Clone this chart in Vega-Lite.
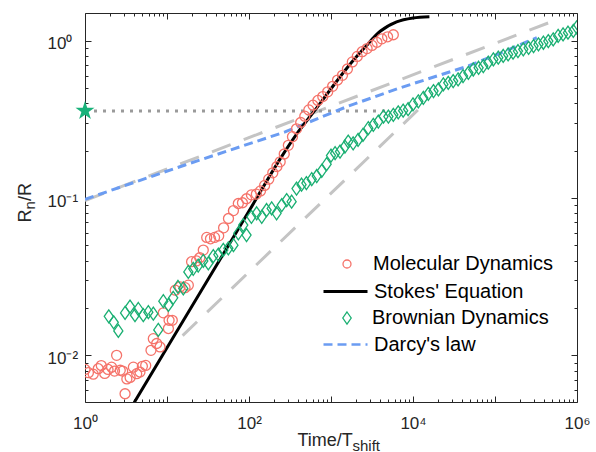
{
  "$schema": "https://vega.github.io/schema/vega-lite/v6.json",
  "width": 492,
  "height": 389,
  "autosize": {"type": "none"},
  "padding": {"left": 85, "top": 13, "right": 19, "bottom": 50},
  "background": "white",
  "datasets": {
    "guideA": [{"t": 1, "r": 0.0964}, {"t": 631000, "r": 1.39}],
    "guideB": [{"t": 15.5, "r": 0.01334}, {"t": 12882, "r": 0.3846}],
    "dotted": [{"t": 1, "r": 0.358}, {"t": 4800, "r": 0.358}],
    "star": [{"t": 1, "r": 0.358}],
    "darcy": [{"t": 1, "r": 0.0982}, {"t": 16.6, "r": 0.1622}, {"t": 275, "r": 0.263}, {"t": 1549, "r": 0.3802}, {"t": 6918, "r": 0.5012}, {"t": 44668, "r": 0.6839}, {"t": 114815, "r": 0.8318}, {"t": 323594, "r": 1.0447}],
    "stokes": [{"t": 3.98, "r": 0.00501}, {"t": 10, "r": 0.01117}, {"t": 31.6, "r": 0.0303}, {"t": 100, "r": 0.0826}, {"t": 251, "r": 0.184}, {"t": 398, "r": 0.263}, {"t": 631, "r": 0.359}, {"t": 1000, "r": 0.495}, {"t": 1585, "r": 0.676}, {"t": 2512, "r": 0.891}, {"t": 3981, "r": 1.148}, {"t": 6310, "r": 1.318}, {"t": 10000, "r": 1.396}, {"t": 15849, "r": 1.422}],
    "md": [{"t": 1.0, "r": 0.00813}, {"t": 1.1, "r": 0.00776}, {"t": 1.26, "r": 0.00759}, {"t": 1.45, "r": 0.00822}, {"t": 1.58, "r": 0.00861}, {"t": 1.74, "r": 0.00767}, {"t": 1.91, "r": 0.00813}, {"t": 2.11, "r": 0.00841}, {"t": 2.29, "r": 0.00794}, {"t": 2.43, "r": 0.01}, {"t": 2.69, "r": 0.00804}, {"t": 2.88, "r": 0.00794}, {"t": 3.08, "r": 0.0057}, {"t": 3.24, "r": 0.00708}, {"t": 3.55, "r": 0.00724}, {"t": 3.89, "r": 0.00841}, {"t": 4.27, "r": 0.00764}, {"t": 4.68, "r": 0.00783}, {"t": 5.01, "r": 0.00851}, {"t": 5.5, "r": 0.00863}, {"t": 6.38, "r": 0.01076}, {"t": 6.81, "r": 0.01276}, {"t": 7.48, "r": 0.01189}, {"t": 8.22, "r": 0.0113}, {"t": 9.02, "r": 0.01862}, {"t": 10.4, "r": 0.0148}, {"t": 10.6, "r": 0.0167}, {"t": 11.6, "r": 0.0167}, {"t": 12.6, "r": 0.02594}, {"t": 14.4, "r": 0.02723}, {"t": 16.6, "r": 0.02692}, {"t": 18.2, "r": 0.02793}, {"t": 19.95, "r": 0.03936}, {"t": 22.9, "r": 0.0398}, {"t": 25.1, "r": 0.0417}, {"t": 27.7, "r": 0.04667}, {"t": 30.5, "r": 0.0562}, {"t": 33.9, "r": 0.055}, {"t": 38.0, "r": 0.0562}, {"t": 42.7, "r": 0.0575}, {"t": 49.0, "r": 0.0646}, {"t": 56.2, "r": 0.0741}, {"t": 64.6, "r": 0.0832}, {"t": 74.1, "r": 0.0923}, {"t": 83.2, "r": 0.0933}, {"t": 93.3, "r": 0.0989}, {"t": 107, "r": 0.1047}, {"t": 123, "r": 0.1059}, {"t": 138, "r": 0.1109}, {"t": 155, "r": 0.1202}, {"t": 174, "r": 0.1318}, {"t": 195, "r": 0.1445}, {"t": 219, "r": 0.1585}, {"t": 240, "r": 0.1698}, {"t": 269, "r": 0.1905}, {"t": 302, "r": 0.2163}, {"t": 339, "r": 0.2455}, {"t": 380, "r": 0.2754}, {"t": 427, "r": 0.302}, {"t": 479, "r": 0.3311}, {"t": 537, "r": 0.3631}, {"t": 603, "r": 0.389}, {"t": 692, "r": 0.4169}, {"t": 794, "r": 0.4416}, {"t": 912, "r": 0.4732}, {"t": 1047, "r": 0.5129}, {"t": 1202, "r": 0.5623}, {"t": 1380, "r": 0.6026}, {"t": 1585, "r": 0.6607}, {"t": 1820, "r": 0.7328}, {"t": 2089, "r": 0.7943}, {"t": 2399, "r": 0.8511}, {"t": 2754, "r": 0.8913}, {"t": 3162, "r": 0.9333}, {"t": 3631, "r": 0.9772}, {"t": 4169, "r": 1.028}, {"t": 4898, "r": 1.059}, {"t": 5754, "r": 1.091}],
    "bd": [{"t": 1.95, "r": 0.0177}, {"t": 2.24, "r": 0.0162}, {"t": 2.55, "r": 0.0143}, {"t": 3.08, "r": 0.0186}, {"t": 3.54, "r": 0.0204}, {"t": 4.07, "r": 0.018}, {"t": 4.47, "r": 0.0197}, {"t": 5.14, "r": 0.018}, {"t": 5.92, "r": 0.0188}, {"t": 6.81, "r": 0.0184}, {"t": 7.83, "r": 0.0145}, {"t": 9.02, "r": 0.0221}, {"t": 10.4, "r": 0.0209}, {"t": 11.9, "r": 0.0232}, {"t": 13.6, "r": 0.0272}, {"t": 15.8, "r": 0.0266}, {"t": 18.2, "r": 0.0339}, {"t": 20.9, "r": 0.0355}, {"t": 24.0, "r": 0.0372}, {"t": 27.7, "r": 0.0398}, {"t": 31.9, "r": 0.0384}, {"t": 36.7, "r": 0.0427}, {"t": 42.3, "r": 0.0437}, {"t": 48.6, "r": 0.0468}, {"t": 56.0, "r": 0.0479}, {"t": 64.6, "r": 0.0501}, {"t": 74.1, "r": 0.0596}, {"t": 85.1, "r": 0.0673}, {"t": 93.3, "r": 0.0581}, {"t": 107, "r": 0.076}, {"t": 124, "r": 0.08}, {"t": 143, "r": 0.076}, {"t": 164, "r": 0.0839}, {"t": 189, "r": 0.0859}, {"t": 217, "r": 0.08}, {"t": 251, "r": 0.0902}, {"t": 288, "r": 0.0971}, {"t": 331, "r": 0.0948}, {"t": 380, "r": 0.1148}, {"t": 437, "r": 0.1216}, {"t": 501, "r": 0.1245}, {"t": 582, "r": 0.1318}, {"t": 670, "r": 0.138}, {"t": 771, "r": 0.1489}, {"t": 885, "r": 0.1641}, {"t": 1000, "r": 0.1862}, {"t": 1122, "r": 0.1928}, {"t": 1288, "r": 0.1972}, {"t": 1479, "r": 0.2123}, {"t": 1622, "r": 0.2286}, {"t": 1862, "r": 0.2228}, {"t": 2138, "r": 0.2339}, {"t": 2455, "r": 0.2518}, {"t": 2851, "r": 0.278}, {"t": 3281, "r": 0.2917}, {"t": 3776, "r": 0.3062}, {"t": 4365, "r": 0.3296}, {"t": 5012, "r": 0.3296}, {"t": 5754, "r": 0.3381}, {"t": 6607, "r": 0.3508}, {"t": 7586, "r": 0.3589}, {"t": 8710, "r": 0.3673}, {"t": 10000, "r": 0.3936}, {"t": 11614, "r": 0.4121}, {"t": 13366, "r": 0.4325}, {"t": 15382, "r": 0.4592}, {"t": 17783, "r": 0.4786}, {"t": 20417, "r": 0.4898}, {"t": 23442, "r": 0.5272}, {"t": 26915, "r": 0.5395}, {"t": 30903, "r": 0.5534}, {"t": 35481, "r": 0.5675}, {"t": 40738, "r": 0.5957}, {"t": 47315, "r": 0.6252}, {"t": 54325, "r": 0.6561}, {"t": 63096, "r": 0.673}, {"t": 71945, "r": 0.6902}, {"t": 82794, "r": 0.7244}, {"t": 95499, "r": 0.7603}, {"t": 109648, "r": 0.7798}, {"t": 125893, "r": 0.7998}, {"t": 144544, "r": 0.8185}, {"t": 165959, "r": 0.8395}, {"t": 190546, "r": 0.859}, {"t": 221309, "r": 0.881}, {"t": 257040, "r": 0.9016}, {"t": 295121, "r": 0.9247}, {"t": 338844, "r": 0.9484}, {"t": 389045, "r": 0.9705}, {"t": 446684, "r": 0.9954}, {"t": 512861, "r": 1.0186}, {"t": 588844, "r": 1.0715}, {"t": 676083, "r": 1.0965}, {"t": 776247, "r": 1.1246}, {"t": 901571, "r": 1.1535}, {"t": 990832, "r": 1.2162}]
  },
  "layer": [
    {
      "data": {"name": "guideA"},
      "mark": {"type": "line", "color": "#C4C4C4", "strokeWidth": 3, "strokeDash": [20, 14], "clip": true},
      "encoding": {
        "x": {"field": "t", "type": "quantitative", "scale": {"type": "log", "domain": [1, 1000000], "nice": false},
          "axis": {"orient": "bottom", "values": [1,2,3,4,5,6,7,8,9,10,20,30,40,50,60,70,80,90,100,200,300,400,500,600,700,800,900,1000,2000,3000,4000,5000,6000,7000,8000,9000,10000,20000,30000,40000,50000,60000,70000,80000,90000,100000,200000,300000,400000,500000,600000,700000,800000,900000,1000000],
            "labelExpr": "datum.value == 1 ? '10⁰' : datum.value == 100 ? '10²' : datum.value == 10000 ? '10⁴' : datum.value == 1000000 ? '10⁶' : ''",
            "tickSize": {"condition": {"test": "datum.value == 1 || datum.value == 10 || datum.value == 100 || datum.value == 1000 || datum.value == 10000 || datum.value == 100000 || datum.value == 1000000", "value": -6}, "value": -3},
            "labelPadding": 19, "labelBaseline": "top",
            "title": "Time/T", "titleX": 212, "titleY": 43, "titleAlign": "left", "titleBaseline": "alphabetic"}},
        "y": {"field": "r", "type": "quantitative", "scale": {"type": "log", "domain": [0.00505, 1.5], "nice": false},
          "axis": {"orient": "left", "values": [0.006,0.007,0.008,0.009,0.01,0.02,0.03,0.04,0.05,0.06,0.07,0.08,0.09,0.1,0.2,0.3,0.4,0.5,0.6,0.7,0.8,0.9,1],
            "labelExpr": "datum.value == 1 ? '10⁰' : datum.value == 0.1 ? '10⁻¹' : datum.value == 0.01 ? '10⁻²' : ''",
            "tickSize": {"condition": {"test": "datum.value == 1 || datum.value == 0.1 || datum.value == 0.01", "value": -6}, "value": -3},
            "labelPadding": 44, "labelAlign": "left", "labelOffset": 3,
            "title": "R", "titleAngle": -90, "titleX": -55, "titleY": 209, "titleAlign": "left", "titleBaseline": "alphabetic"}}
      }
    },
    {
      "data": {"name": "guideB"},
      "mark": {"type": "line", "color": "#C4C4C4", "strokeWidth": 3, "strokeDash": [20, 14], "clip": true},
      "encoding": {
        "x": {"field": "t", "type": "quantitative", "scale": {"type": "log", "domain": [1, 1000000], "nice": false},
          "axis": {"orient": "top", "values": [1,2,3,4,5,6,7,8,9,10,20,30,40,50,60,70,80,90,100,200,300,400,500,600,700,800,900,1000,2000,3000,4000,5000,6000,7000,8000,9000,10000,20000,30000,40000,50000,60000,70000,80000,90000,100000,200000,300000,400000,500000,600000,700000,800000,900000,1000000],
            "labels": false, "title": null,
            "tickSize": {"condition": {"test": "datum.value == 1 || datum.value == 10 || datum.value == 100 || datum.value == 1000 || datum.value == 10000 || datum.value == 100000 || datum.value == 1000000", "value": -6}, "value": -3}}},
        "y": {"field": "r", "type": "quantitative", "scale": {"type": "log", "domain": [0.00505, 1.5], "nice": false},
          "axis": {"orient": "right", "values": [0.006,0.007,0.008,0.009,0.01,0.02,0.03,0.04,0.05,0.06,0.07,0.08,0.09,0.1,0.2,0.3,0.4,0.5,0.6,0.7,0.8,0.9,1],
            "labels": false, "title": null,
            "tickSize": {"condition": {"test": "datum.value == 1 || datum.value == 0.1 || datum.value == 0.01", "value": -6}, "value": -3}}}
      }
    },
    {
      "data": {"name": "dotted"},
      "mark": {"type": "line", "color": "#9A9A9A", "strokeWidth": 3, "strokeDash": [3, 6], "clip": true},
      "encoding": {
        "x": {"field": "t", "type": "quantitative", "scale": {"type": "log", "domain": [1, 1000000], "nice": false},
          "axis": {"orient": "bottom", "labels": false, "ticks": false, "domain": false, "title": "shift", "titleFontSize": 15, "titleX": 267, "titleY": 48, "titleAlign": "left", "titleBaseline": "alphabetic"}},
        "y": {"field": "r", "type": "quantitative", "scale": {"type": "log", "domain": [0.00505, 1.5], "nice": false},
          "axis": {"orient": "left", "labels": false, "ticks": false, "domain": false, "title": "n", "titleFontSize": 15, "titleAngle": -90, "titleX": -50.5, "titleY": 196, "titleAlign": "left", "titleBaseline": "alphabetic"}}
      }
    },
    {
      "data": {"name": "darcy"},
      "mark": {"type": "line", "strokeWidth": 3, "color": "#6B9CF2", "clip": true},
      "encoding": {
        "x": {"field": "t", "type": "quantitative", "scale": {"type": "log", "domain": [1, 1000000], "nice": false}, "axis": null},
        "y": {"field": "r", "type": "quantitative", "scale": {"type": "log", "domain": [0.00505, 1.5], "nice": false},
          "axis": {"orient": "left", "labels": false, "ticks": false, "domain": false, "title": "/R", "titleAngle": -90, "titleX": -55, "titleY": 187.5, "titleAlign": "left", "titleBaseline": "alphabetic"}},
        "strokeDash": {"datum": "Darcy's law", "scale": {"domain": ["Darcy's law"], "range": [[9, 5]]},
          "legend": {"title": null, "orient": "none", "legendX": 237, "legendY": 308, "padding": 0,
            "labelFont": "Liberation Sans", "labelFontSize": 20, "labelColor": "#000000", "labelLimit": 400,
            "symbolSize": 1936, "symbolStrokeWidth": 2.5, "labelOffset": 5}}
      }
    },
    {
      "data": {"name": "stokes"},
      "mark": {"type": "line", "strokeWidth": 3, "interpolate": "monotone", "clip": true},
      "encoding": {
        "x": {"field": "t", "type": "quantitative", "scale": {"type": "log", "domain": [1, 1000000], "nice": false}, "axis": null},
        "y": {"field": "r", "type": "quantitative", "scale": {"type": "log", "domain": [0.00505, 1.5], "nice": false}, "axis": null},
        "stroke": {"datum": "Stokes' Equation", "scale": {"domain": ["Stokes' Equation"], "range": ["#000000"]},
          "legend": {"title": null, "orient": "none", "legendX": 237, "legendY": 255, "padding": 0,
            "labelFont": "Liberation Sans", "labelFontSize": 20, "labelColor": "#000000", "labelLimit": 400,
            "symbolSize": 1936, "symbolStrokeWidth": 3, "labelOffset": 5}}
      }
    },
    {
      "data": {"name": "md"},
      "mark": {"type": "point", "shape": "circle", "filled": false, "size": 100, "strokeWidth": 1.3, "opacity": 1, "clip": true},
      "encoding": {
        "x": {"field": "t", "type": "quantitative", "scale": {"type": "log", "domain": [1, 1000000], "nice": false}, "axis": null},
        "y": {"field": "r", "type": "quantitative", "scale": {"type": "log", "domain": [0.00505, 1.5], "nice": false}, "axis": null},
        "color": {"datum": "Molecular Dynamics", "scale": {"domain": ["Molecular Dynamics"], "range": ["#F5736A"]},
          "legend": {"title": null, "orient": "none", "legendX": 252, "legendY": 241, "padding": 0,
            "labelFont": "Liberation Sans", "labelFontSize": 20, "labelColor": "#000000", "labelLimit": 400,
            "symbolSize": 64, "symbolStrokeWidth": 1.3, "labelOffset": 16}}
      }
    },
    {
      "data": {"name": "bd"},
      "mark": {"type": "point", "filled": false, "size": 169, "strokeWidth": 1.3, "opacity": 1, "color": "#1AAF72", "clip": true},
      "encoding": {
        "x": {"field": "t", "type": "quantitative", "scale": {"type": "log", "domain": [1, 1000000], "nice": false}, "axis": null},
        "y": {"field": "r", "type": "quantitative", "scale": {"type": "log", "domain": [0.00505, 1.5], "nice": false}, "axis": null},
        "shape": {"datum": "Brownian Dynamics", "scale": {"domain": ["Brownian Dynamics"], "range": ["M0,-1L0.7,0L0,1L-0.7,0Z"]},
          "legend": {"title": null, "orient": "none", "legendX": 252, "legendY": 295, "padding": 0,
            "labelFont": "Liberation Sans", "labelFontSize": 20, "labelColor": "#000000", "labelLimit": 400,
            "symbolSize": 144, "symbolStrokeWidth": 1.3, "labelOffset": 15}}
      }
    },
    {
      "data": {"name": "star"},
      "mark": {"type": "point", "shape": "M0,-1L0.2245,-0.309L0.951,-0.309L0.363,0.118L0.588,0.809L0,0.382L-0.588,0.809L-0.363,0.118L-0.951,-0.309L-0.2245,-0.309Z", "filled": true, "size": 400, "color": "#19B27A", "opacity": 1, "clip": false},
      "encoding": {
        "x": {"field": "t", "type": "quantitative", "scale": {"type": "log", "domain": [1, 1000000], "nice": false}, "axis": null},
        "y": {"field": "r", "type": "quantitative", "scale": {"type": "log", "domain": [0.00505, 1.5], "nice": false}, "axis": null}
      }
    }
  ],
  "resolve": {"axis": {"x": "independent", "y": "independent"}},
  "config": {
    "font": "Liberation Sans",
    "view": {"stroke": null},
    "axis": {"grid": false, "domainColor": "#262626", "domainWidth": 1, "tickColor": "#262626", "tickWidth": 1,
      "labelColor": "#262626", "labelFont": "Liberation Sans", "labelFontSize": 17,
      "titleFont": "Liberation Sans", "titleFontSize": 18, "titleFontWeight": "normal", "titleColor": "#262626",
      "labelOverlap": false, "labelFlush": false}
  }
}
